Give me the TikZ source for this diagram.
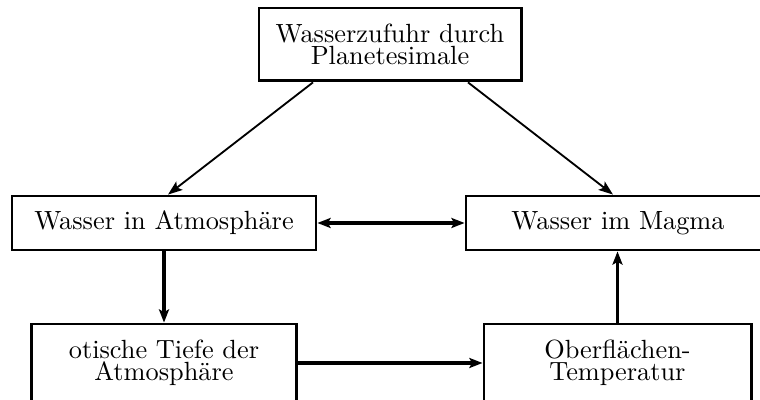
\documentclass[tikz,border=0pt]{standalone}
\usetikzlibrary{arrows.meta,calc}

\begin{document}
\begin{tikzpicture}[x=0.38pt,y=0.38pt,
  box/.style={draw,line width=1.1pt,align=center,inner sep=0pt,font={\fontsize{10}{8.2}\selectfont}},
  thinline/.style={line width=0.7pt,>={Stealth[length=5.5pt,width=4pt,inset=1.2pt]}},
  thickline/.style={line width=1.3pt,>={Stealth[length=5pt,width=3.8pt,inset=1pt]}}]
%\draw[step=20,gray,very thin] (0,0) grid (760,400); %background grid
\useasboundingbox (0,0) rectangle (760,400);
\clip (0,0) rectangle (760,400);

% boxes
\node[box,minimum width=99.6pt,minimum height=27.7pt] (wz) at (390,355.5) {Wasserzufuhr durch\\Planetesimale};
\node[box,minimum width=115.5pt,minimum height=20.5pt] (atm) at (164,177) {Wasser in Atmosphäre};
\node[box,minimum width=115.5pt,minimum height=20.5pt] (mag) at (618,177) {Wasser im Magma};
\node[box,minimum width=101pt,minimum height=29.6pt] (tiefe) at (164,37) {otische Tiefe der\\Atmosphäre};
\node[box,minimum width=101.5pt,minimum height=29.6pt] (temp) at (617.5,37) {Oberflächen-\\Temperatur};

% arrows
\draw[thinline,->] ($(wz.south)+(-77,0)$) -- ($(atm.north)+(4,0)$);
\draw[thinline,->] ($(wz.south)+(78,0)$) -- ($(mag.north)+(-5,0)$);
\draw[thickline,line width=1.5pt,<->] (atm.east) -- (mag.west);
\draw[thickline,->] (atm.south) -- (atm.south |- tiefe.north);
\draw[thickline,->] (tiefe.east) -- (tiefe.east -| temp.west);
\draw[thickline,->] (temp.north) -- (temp.north |- mag.south);

\end{tikzpicture}
\end{document}
